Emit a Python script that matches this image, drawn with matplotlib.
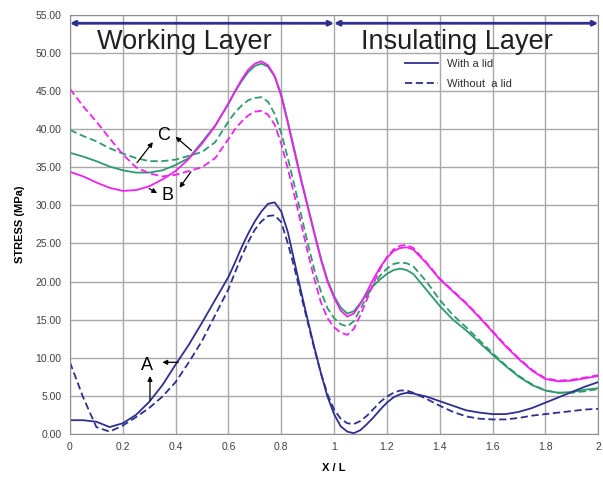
import numpy as np
import matplotlib
matplotlib.use("Agg")
import matplotlib.pyplot as plt

plt.rcParams['font.family'] = ['Liberation Sans', 'DejaVu Sans']

# X / L positions shared by all curves (denser where the curves bend most)
x = ([0, 0.05, 0.1, 0.15, 0.2, 0.25, 0.3, 0.35, 0.4, 0.45, 0.5, 0.55,
      0.6, 0.625, 0.65, 0.675, 0.7, 0.725, 0.75, 0.775, 0.8, 0.825, 0.85, 0.875,
      0.9, 0.925, 0.95, 0.975, 1.0, 1.025, 1.05, 1.075, 1.1, 1.125, 1.15, 1.175,
      1.2, 1.225, 1.25, 1.275, 1.3,
      1.35, 1.4, 1.45, 1.5, 1.55, 1.6, 1.65, 1.7, 1.75, 1.8, 1.85, 1.9, 1.95, 2.0])

# A : navy
a_lid = [1.8, 1.8, 1.6, 0.9, 1.4, 2.5, 4.2, 6.4, 9.1, 11.7, 14.6, 17.6,
         20.6, 22.5, 24.5, 26.3, 27.9, 29.2, 30.2, 30.4, 29.2, 26.5, 22.6, 18.7,
         15.0, 11.4, 8.0, 4.9, 2.6, 1.0, 0.3, 0.1, 0.5, 1.3, 2.2, 3.2,
         4.1, 4.8, 5.2, 5.4, 5.3,
         4.9, 4.3, 3.7, 3.1, 2.8, 2.6, 2.6, 2.9, 3.4, 4.1, 4.8, 5.5, 6.2, 6.8]
a_nolid = [9.4, 4.8, 0.9, 0.3, 1.1, 2.2, 3.4, 4.9, 6.8, 9.4, 12.2, 15.6,
           19.0, 21.2, 23.3, 25.2, 26.8, 27.9, 28.6, 28.7, 27.8, 25.0, 21.8, 18.2,
           14.7, 11.2, 8.0, 5.2, 3.2, 2.0, 1.4, 1.3, 1.7, 2.4, 3.3, 4.2,
           4.9, 5.4, 5.7, 5.7, 5.4,
           4.6, 3.7, 2.9, 2.3, 2.0, 1.9, 1.9, 2.1, 2.4, 2.6, 2.8, 3.0, 3.2, 3.3]
# B : magenta
b_lid = [34.4, 33.8, 33.0, 32.3, 31.9, 32.0, 32.5, 33.4, 34.5, 36.1, 38.1, 40.4,
         43.4, 45.0, 46.5, 47.8, 48.6, 48.9, 48.4, 47.0, 44.3, 40.8, 37.0, 33.3,
         29.8, 26.3, 22.9, 20.0, 17.9, 16.2, 15.4, 15.8, 17.1, 18.7, 20.4, 21.9,
         23.1, 24.0, 24.4, 24.5, 24.2,
         22.4, 20.3, 18.7, 17.1, 15.3, 13.4, 11.5, 9.8, 8.3, 7.2, 6.9, 7.0, 7.3, 7.6]
b_nolid = [45.3, 43.0, 41.0, 38.8, 36.7, 35.0, 34.2, 33.8, 34.0, 34.5, 35.0, 36.2,
           38.7, 40.0, 41.0, 41.8, 42.3, 42.4, 41.9, 40.6, 38.1, 34.8, 31.3, 27.6,
           23.9, 20.4, 17.3, 15.2, 14.0, 13.3, 13.0, 13.8, 15.6, 17.7, 19.8, 21.7,
           23.2, 24.2, 24.7, 24.8, 24.4,
           22.5, 20.4, 18.8, 17.2, 15.4, 13.5, 11.6, 9.9, 8.4, 7.3, 7.0, 7.1, 7.4, 7.7]
# C : green
c_lid = [36.9, 36.4, 35.8, 35.1, 34.6, 34.3, 34.3, 34.6, 35.3, 36.2, 38.3, 40.5,
         43.3, 44.9, 46.3, 47.5, 48.3, 48.6, 48.2, 46.9, 44.6, 41.0, 37.3, 33.5,
         30.0, 26.5, 23.1, 20.2, 18.1, 16.6, 15.8, 16.1, 17.2, 18.4, 19.5, 20.3,
         21.0, 21.5, 21.7, 21.5, 21.0,
         18.9, 16.8, 15.0, 13.6, 12.0, 10.4, 8.9, 7.5, 6.4, 5.7, 5.4, 5.5, 5.8, 6.0]
c_nolid = [39.9, 39.1, 38.4, 37.5, 36.8, 36.2, 35.8, 35.8, 36.0, 36.5, 37.0, 38.3,
           41.0, 42.2, 43.1, 43.8, 44.1, 44.2, 43.6, 42.0, 39.5, 36.2, 32.6, 28.8,
           25.1, 21.6, 18.7, 16.5, 15.2, 14.4, 14.1, 14.8, 16.4, 18.1, 19.6, 20.8,
           21.7, 22.3, 22.5, 22.4, 22.0,
           20.0, 17.6, 15.6, 14.0, 12.3, 10.6, 9.0, 7.6, 6.5, 5.7, 5.4, 5.4, 5.6, 5.9]

xticks = [0, 0.2, 0.4, 0.6, 0.8, 1, 1.2, 1.4, 1.6, 1.8, 2]
xticklabels = ['0', '0.2', '0.4', '0.6', '0.8', '1', '1.2', '1.4', '1.6', '1.8', '2']
yticks = np.arange(0, 56, 5)

navy = '#2e2f8e'
magenta = '#f020f0'
green = '#2e9a6c'

fig = plt.figure(figsize=(6.03, 4.80), dpi=100)
ax = fig.add_axes([0.116, 0.096, 0.876, 0.873])

ax.plot(x, c_lid, color=green, lw=1.3)
ax.plot(x, c_nolid, color=green, lw=1.3, ls=(0, (4, 2)))
ax.plot(x, b_lid, color=magenta, lw=1.3)
ax.plot(x, b_nolid, color=magenta, lw=1.3, ls=(0, (4, 2)))
ax.plot(x, a_lid, color=navy, lw=1.3, label='With a lid')
ax.plot(x, a_nolid, color=navy, lw=1.3, ls=(0, (4, 2)), label='Without  a lid')

ax.set_xlim(0, 2)
ax.set_ylim(0, 55)
ax.set_xticks(xticks)
ax.set_xticklabels(xticklabels)
ax.set_yticks(yticks)
ax.set_yticklabels(['%.2f' % v for v in yticks])
ax.tick_params(length=0, labelsize=7.5, labelcolor='#404040', pad=6)
ax.grid(True, color='#a8a8a8', lw=1)
ax.set_axisbelow(True)
for s in ax.spines.values():
    s.set_color('#909090')

ax.set_xlabel('X / L', fontsize=8, fontweight='bold', labelpad=8)
ax.set_ylabel('STRESS (MPa)', fontsize=8, fontweight='bold', labelpad=8)

# layer arrows
arr = dict(arrowstyle='<|-|>', color=navy, lw=2, mutation_scale=7, shrinkA=0, shrinkB=0)
ax.annotate('', xy=(1, 53.9), xytext=(0, 53.9), arrowprops=arr)
ax.annotate('', xy=(2, 53.9), xytext=(1, 53.9), arrowprops=arr)
ax.text(0.435, 51.5, 'Working Layer', fontsize=19.5, ha='center', va='center', color='#202020')
ax.text(1.467, 51.5, 'Insulating Layer', fontsize=19.5, ha='center', va='center', color='#202020')

# curve labels with arrows
ap = dict(arrowstyle='-|>', color='black', lw=0.9, mutation_scale=7, shrinkA=0, shrinkB=0)
ax.text(0.29, 9.0, 'A', fontsize=13, ha='center', va='center')
ax.annotate('', xy=(0.35, 9.4), xytext=(0.41, 9.4), arrowprops=ap)
ax.annotate('', xy=(0.303, 7.6), xytext=(0.303, 4.4), arrowprops=ap)
ax.text(0.355, 39.2, 'C', fontsize=13, ha='center', va='center')
ax.annotate('', xy=(0.314, 38.3), xytext=(0.254, 35.6), arrowprops=ap)
ax.annotate('', xy=(0.40, 39.0), xytext=(0.46, 37.2), arrowprops=ap)
ax.text(0.37, 31.3, 'B', fontsize=13, ha='center', va='center')
ax.annotate('', xy=(0.33, 31.6), xytext=(0.30, 32.2), arrowprops=ap)
ax.annotate('', xy=(0.415, 32.3), xytext=(0.458, 34.4), arrowprops=ap)

ax.legend(loc='upper left', bbox_to_anchor=(0.615, 0.918), frameon=False, fontsize=8,
          handlelength=3, labelspacing=0.9, labelcolor='#303030')

fig.savefig('out.png', dpi=100)
